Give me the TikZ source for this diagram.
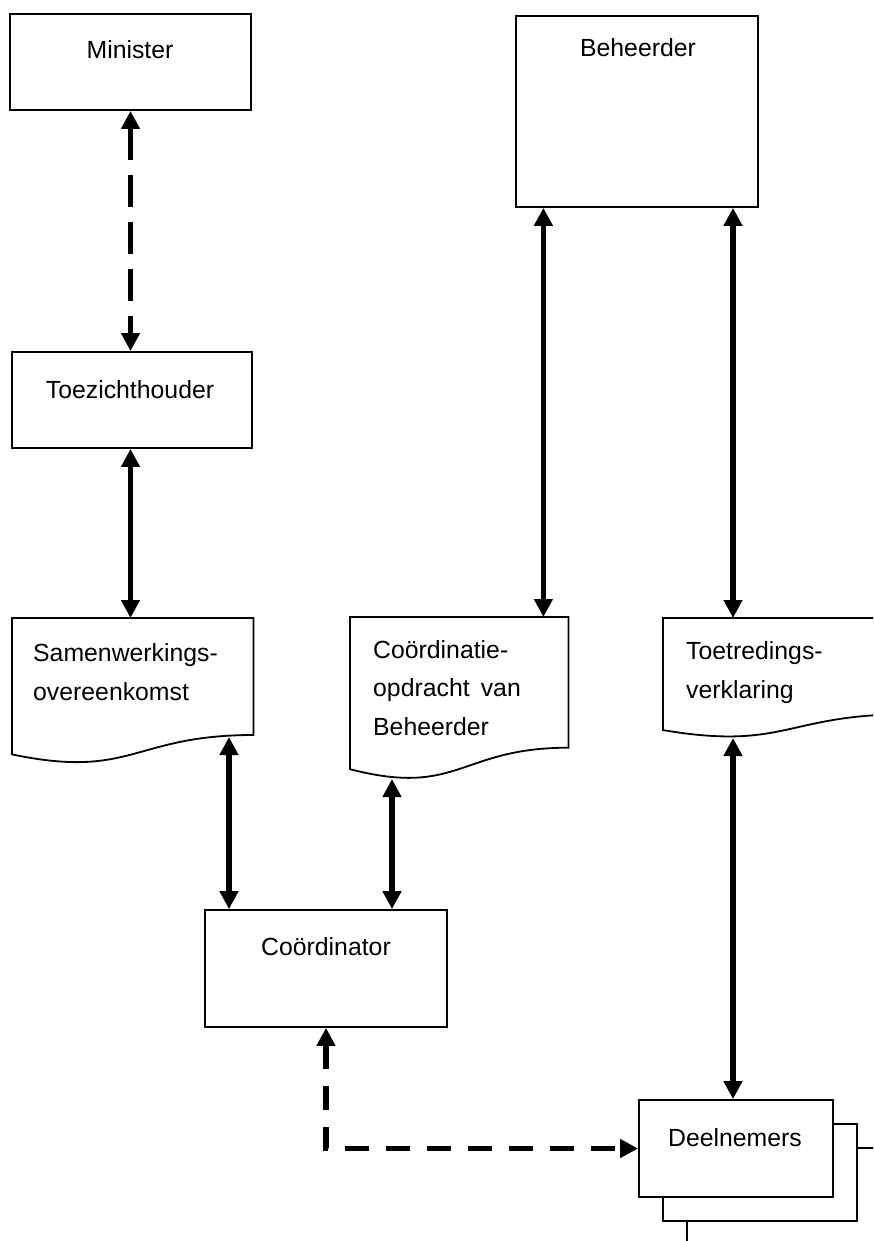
\documentclass[tikz,border=0pt]{standalone}
\usepackage{fontspec}
\setmainfont{Liberation Sans}
\usetikzlibrary{arrows.meta,calc}
\tikzset{
  box/.style={draw=black, line width=1.8pt, fill=white, inner sep=0pt},
  docarea/.style={draw=none, inner sep=0pt, anchor=north west},
  docline/.style={draw=black, line width=1.8pt, fill=white, line join=miter},
  txt/.style={font=\fontsize{24.8}{39}\selectfont, inner sep=0pt, anchor=base},
  txtl/.style={font=\fontsize{24.8}{38.5}\selectfont, inner sep=0pt, anchor=base west, align=left},
  conn/.style={line width=5.5pt, {Triangle[length=18pt,width=18pt]}-{Triangle[length=18pt,width=18pt]}},
  dconnA/.style={conn, dash pattern=on 32pt off 15pt},
  dconnB/.style={conn, dash pattern=on 24pt off 17pt},
}
\begin{document}
\begin{tikzpicture}[x=1pt,y=-1pt]
\useasboundingbox (0,0) rectangle (873,1241);
\clip (0,0) rectangle (873,1241);

% boxes
\node[box, minimum width=241pt, minimum height=96pt] (min) at (130.5,62) {};
\node[txt] (minT) at (130,59) {Minister};
\node[box, minimum width=240pt, minimum height=96pt] (toe) at (132,400) {};
\node[txt] (toeT) at (130,398) {Toezichthouder};
\node[box, minimum width=242pt, minimum height=191pt] (beh) at (637,111.5) {};
\node[txt] (behT) at (638,57) {Beheerder};
\node[box, minimum width=242pt, minimum height=117pt] (crd) at (326,968.5) {};
\node[txt] (crdT) at (326,955) {Coördinator};

% Deelnemers stack
\node[box, minimum width=194pt, minimum height=97pt] (deel3) at (784,1196.5) {};
\node[box, minimum width=194pt, minimum height=97pt] (deel2) at (760,1172.5) {};
\node[box, minimum width=194pt, minimum height=97pt] (deel1) at (736,1148.5) {};
\node[txt] (deelT) at (735,1146) {Deelnemers};

% documents
\node[docarea, minimum width=241pt, minimum height=146pt] (sam) at (12,618) {};
\draw[docline] (sam.north west) -- (sam.north east) -- ($(sam.north east)+(0,117)$)
  .. controls ($(sam.north)+(0,117)$) and ($(sam.north)+(0,161.6)$) .. ($(sam.north west)+(0,136.4)$) -- cycle;
\node[txtl] (samT) at (33,700) {Samenwerkings-\\overeenkomst};

\node[docarea, minimum width=218pt, minimum height=163pt] (coo) at (350,617) {};
\draw[docline] (coo.north west) -- (coo.north east) -- ($(coo.north east)+(0,130.7)$)
  .. controls ($(coo.north)+(0,130.7)$) and ($(coo.north)+(0,180.4)$) .. ($(coo.north west)+(0,152.2)$) -- cycle;
\node[txtl] (cooT) at (373,735) {Coördinatie-\\opdracht\hspace{0.45em}van\\Beheerder};

\node[docarea, minimum width=245pt, minimum height=120pt] (toet) at (663,618) {};
\draw[docline] (toet.north west) -- (toet.north east) -- ($(toet.north east)+(0,96.2)$)
  .. controls ($(toet.north)+(0,96.2)$) and ($(toet.north)+(0,132.8)$) .. ($(toet.north west)+(0,112.1)$) -- cycle;
\node[txtl] (toetT) at (686,698) {Toetredings-\\verklaring};

% connector end points on the wavy edges
\coordinate (b1) at ([xshift=-25pt]coo.north east);
\coordinate (b2) at ([xshift=70pt]toet.north west);
\coordinate (s1) at (229,737);
\coordinate (c2) at (392,779);
\coordinate (t1) at (733,738);

% connectors
\draw[dconnA] (min.south) -- (min.south |- toe.north);
\draw[conn] (min.south |- toe.south) -- (min.south |- sam.north);
\draw[conn] (b1 |- beh.south) -- (b1);
\draw[conn] (b2 |- beh.south) -- (b2);
\draw[conn] (s1) -- (s1 |- crd.north);
\draw[conn] (c2) -- (c2 |- crd.north);
\draw[conn] (t1) -- (t1 |- deel1.north);
\draw[dconnB] (crd.south) |- (deel1.west);
\end{tikzpicture}
\end{document}
